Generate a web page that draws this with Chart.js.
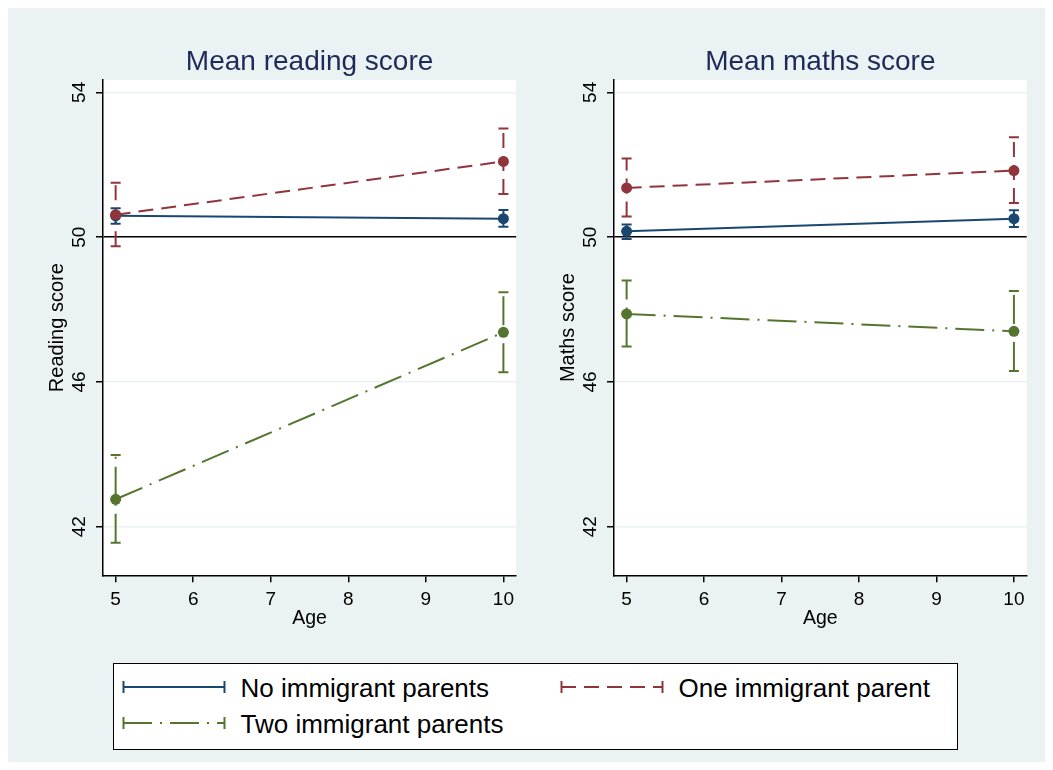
<!DOCTYPE html>
<html>
<head>
<meta charset="utf-8">
<title>Mean reading and maths scores by age</title>
<script src="https://cdn.jsdelivr.net/npm/chart.js@4.4.1/dist/chart.umd.min.js"></script>
<style>
  html, body { margin: 0; padding: 0; background: #ffffff; width: 1053px; height: 770px; overflow: hidden;
               font-family: "Liberation Sans", Arial, Helvetica, sans-serif; }
  #frame { position: absolute; left: 8px; top: 8px; width: 1037px; height: 754px; background: #EAF2F3; }
  canvas { position: absolute; }
  #readingPanel { left: 8px; top: 8px; }
  #mathsPanel { left: 519px; top: 8px; }
  #legend { position: absolute; left: 113px; top: 663px; width: 845px; height: 87px; box-sizing: border-box;
            background: #ffffff; border: 1.5px solid #000000; }
  .item { position: absolute; height: 30px; line-height: 30px; font-size: 26px; color: #000000; white-space: nowrap; }
  .item svg { position: absolute; left: 0; top: 7px; }
  .item span { position: absolute; left: 119px; top: 0; }
</style>
</head>
<body>
<div id="frame"></div>
<canvas id="readingPanel" width="522" height="640"></canvas>
<canvas id="mathsPanel" width="522" height="640"></canvas>
<div id="legend"></div>

<script>
// ---- data ---------------------------------------------------------------
const ages = [5, 10];
const xTicks = [5, 6, 7, 8, 9, 10];
const yTicks = [42, 46, 50, 54];

const groupNames  = ['No immigrant parents', 'One immigrant parent', 'Two immigrant parents'];
const groupColors = ['#1A476F', '#90353B', '#55752F'];
const groupDashes = [[], [15, 8], [29, 8, 2, 8]];

// Reading score: group means with lower / upper confidence bounds, ages 5 and 10
const readNoMean  = [50.59, 50.51];
const readNoLow   = [50.37, 50.29];
const readNoHigh  = [50.80, 50.75];
const readOneMean = [50.62, 52.09];
const readOneLow  = [49.75, 51.19];
const readOneHigh = [51.50, 53.00];
const readTwoMean = [42.76, 47.37];
const readTwoLow  = [41.56, 46.27];
const readTwoHigh = [43.98, 48.48];

// Maths score
const mathNoMean  = [50.16, 50.51];
const mathNoLow   = [49.95, 50.28];
const mathNoHigh  = [50.35, 50.74];
const mathOneMean = [51.36, 51.84];
const mathOneLow  = [50.57, 50.94];
const mathOneHigh = [52.17, 52.76];
const mathTwoMean = [47.88, 47.40];
const mathTwoLow  = [46.98, 46.30];
const mathTwoHigh = [48.80, 48.51];

// ---- styling ------------------------------------------------------------
const FONT = '"Liberation Sans", Arial, Helvetica, sans-serif';
const GRID = '#EAF2F3';
const TITLE_COLOR = '#1E2B58';
const X_MIN = 4.837, X_MAX = 10.165;
const Y_MIN = 40.66, Y_MAX = 54.34;

// white plot region behind the data
const plotBackground = {
  id: 'plotBackground',
  beforeDraw(chart) {
    const { ctx, chartArea: a } = chart;
    ctx.save();
    ctx.fillStyle = '#ffffff';
    ctx.fillRect(a.left, a.top, a.right - a.left, a.bottom - a.top);
    ctx.restore();
  }
};

function buildDatasets(means, lows, highs) {
  const sets = [];
  means.forEach((m, g) => {
    sets.push({
      label: groupNames[g],
      data: ages.map((a, i) => ({ x: a, y: m[i] })),
      showLine: true,
      borderColor: groupColors[g],
      backgroundColor: groupColors[g],
      borderWidth: 2,
      borderDash: groupDashes[g],
      pointRadius: 5.5,
      pointBackgroundColor: groupColors[g],
      pointBorderWidth: 0,
      order: 3 - g
    });
  });
  // confidence intervals: vertical segment with flat caps at each age
  means.forEach((m, g) => {
    ages.forEach((a, i) => {
      sets.push({
        label: groupNames[g] + ' CI ' + a,
        data: [{ x: a, y: lows[g][i] }, { x: a, y: highs[g][i] }],
        showLine: true,
        borderColor: groupColors[g],
        borderWidth: 2,
        borderDash: groupDashes[g],
        pointStyle: 'line',
        pointRadius: 5,
        pointBorderColor: groupColors[g],
        pointBorderWidth: 2,
        order: 10
      });
    });
  });
  return sets;
}

function makePanel(canvasId, panelTitle, yTitle, means, lows, highs, rightPad) {
  return new Chart(document.getElementById(canvasId), {
    type: 'scatter',
    data: { datasets: buildDatasets(means, lows, highs) },
    plugins: [plotBackground],
    options: {
      responsive: false,
      animation: false,
      devicePixelRatio: 1,
      events: [],
      layout: { padding: { left: 0, top: 0, right: rightPad, bottom: 0 } },
      plugins: { legend: { display: false }, tooltip: { enabled: false }, title: { display: false } },
      scales: {
        x: {
          type: 'linear', position: 'bottom', min: X_MIN, max: X_MAX,
          afterBuildTicks: s => { s.ticks = xTicks.map(v => ({ value: v })); },
          afterFit: s => { s.height = 72.7; },
          grid: { drawOnChartArea: false, drawTicks: true, tickLength: 7, tickColor: '#000', lineWidth: 1.5 },
          border: { display: true, color: '#000', width: 1.5 },
          ticks: { font: { family: FONT, size: 19 }, color: '#000', padding: 6, maxRotation: 0, autoSkip: false },
          title: { display: true, text: 'Age', color: '#000', font: { family: FONT, size: 19.5 },
                   padding: { top: 0, bottom: 18 } }
        },
        xTop: {
          type: 'linear', position: 'top', min: 0, max: 1,
          afterFit: s => { s.height = 72; },
          grid: { display: false, drawTicks: false },
          border: { display: false },
          ticks: { display: false },
          title: { display: true, text: panelTitle, color: TITLE_COLOR, font: { family: FONT, size: 28 },
                   padding: { top: 37.8, bottom: 0 } }
        },
        y: {
          type: 'linear', position: 'left', min: Y_MIN, max: Y_MAX,
          afterBuildTicks: s => { s.ticks = yTicks.map(v => ({ value: v })); },
          afterFit: s => { s.width = 95; },
          grid: {
            drawOnChartArea: true, drawTicks: true, tickLength: 7, tickColor: '#000', lineWidth: 1.5,
            color: c => (c.tick && c.tick.value === 50) ? '#000000' : GRID
          },
          border: { display: true, color: '#000', width: 1.5 },
          ticks: { font: { family: FONT, size: 19 }, color: '#000', padding: 5.4,
                   minRotation: 90, maxRotation: 90, crossAlign: 'center', autoSkip: false },
          title: { display: true, text: yTitle, color: '#000', font: { family: FONT, size: 20 },
                   padding: { top: 37.9, bottom: 0 } }
        }
      }
    }
  });
}

makePanel('readingPanel', 'Mean reading score', 'Reading score',
  [readNoMean, readOneMean, readTwoMean],
  [readNoLow, readOneLow, readTwoLow],
  [readNoHigh, readOneHigh, readTwoHigh], 13.8);

makePanel('mathsPanel', 'Mean maths score', 'Maths score',
  [mathNoMean, mathOneMean, mathTwoMean],
  [mathNoLow, mathOneLow, mathTwoLow],
  [mathNoHigh, mathOneHigh, mathTwoHigh], 14.3);

// ---- shared legend --------------------------------------------------------
const legendSlots = [
  { left: 7.5, top: 8.5 },
  { left: 445.5, top: 8.5 },
  { left: 7.5, top: 45 }
];
const SVG_NS = 'http://www.w3.org/2000/svg';
function svgLine(svg, x1, y1, x2, y2, color, dash) {
  const l = document.createElementNS(SVG_NS, 'line');
  l.setAttribute('x1', x1); l.setAttribute('y1', y1);
  l.setAttribute('x2', x2); l.setAttribute('y2', y2);
  l.setAttribute('stroke', color); l.setAttribute('stroke-width', 2);
  if (dash && dash.length) l.setAttribute('stroke-dasharray', dash.join(' '));
  svg.appendChild(l);
}
const legend = document.getElementById('legend');
groupNames.forEach((name, g) => {
  const item = document.createElement('div');
  item.className = 'item';
  item.style.left = legendSlots[g].left + 'px';
  item.style.top = legendSlots[g].top + 'px';
  const svg = document.createElementNS(SVG_NS, 'svg');
  svg.setAttribute('width', 104); svg.setAttribute('height', 14);
  svgLine(svg, 1, 7, 103, 7, groupColors[g], groupDashes[g]);
  svgLine(svg, 1.5, 1, 1.5, 13, groupColors[g]);
  svgLine(svg, 102.5, 1, 102.5, 13, groupColors[g]);
  item.appendChild(svg);
  const span = document.createElement('span');
  span.textContent = name;
  item.appendChild(span);
  legend.appendChild(item);
});
</script>
</body>
</html>
